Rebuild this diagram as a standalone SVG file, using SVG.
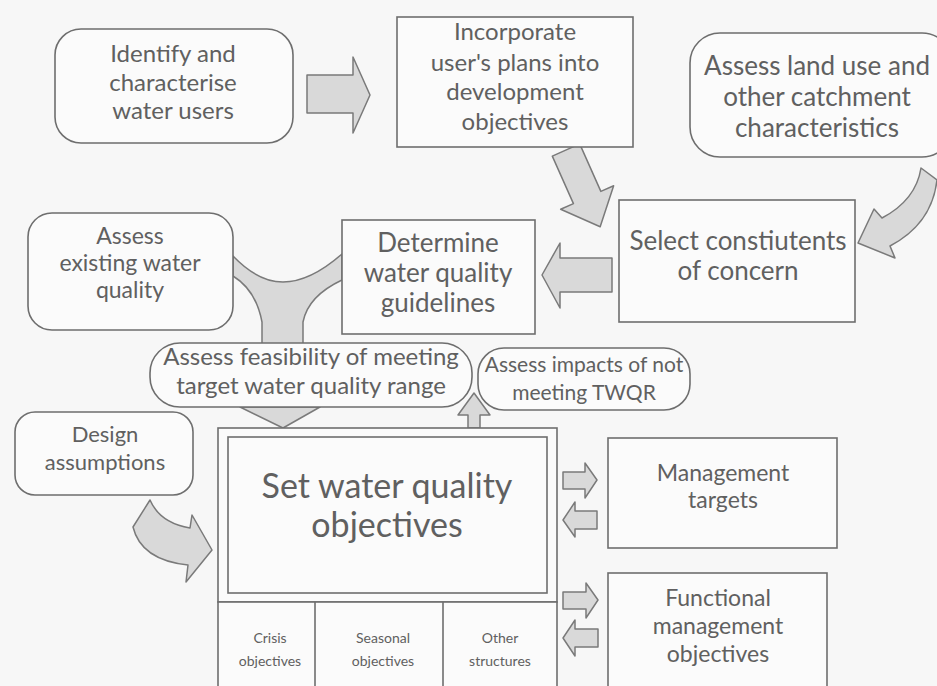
<svg xmlns="http://www.w3.org/2000/svg" width="937" height="686" viewBox="0 0 937 686">
  <style>
    .box { fill: #fbfbfb; stroke: #6e6e6e; stroke-width: 1.6; }
    .arrow { fill: #d9d9d9; stroke: #7a7a7a; stroke-width: 1.5; stroke-linejoin: round; }
    text { font-family: Lato, "Open Sans", "Liberation Sans", sans-serif; fill: #606060; text-anchor: middle; }
  </style>
  <rect width="937" height="686" fill="#f7f7f7"/>

  <!-- Connectors -->
  <g id="connectors">
    <!-- identify -> incorporate -->
    <polygon class="arrow" points="307,75 353,75 353,57 370,95 353,133 353,113 307,113"/>
    <!-- incorporate -> select -->
    <polygon class="arrow" transform="translate(566,150) rotate(-24)" points="-15,0 15,0 15,52 29,52 0,84 -29,52 -15,52"/>
    <!-- land use -> select (curved) -->
    <path class="arrow" d="M921,168 Q916,200 882,218 L874,209 L858,243 L895,258 L890,246 Q932,224 937,180 Z"/>
    <!-- select -> determine -->
    <polygon class="arrow" points="612,258 560,258 560,243 542,275 560,308 560,292 612,292"/>
    <!-- existing quality + guidelines merge -> feasibility -->
    <path class="arrow" d="M233,256 Q258,282 283,282 Q310,282 342,254 L342,280 Q308,296 303,322 L303,346 L262,346 L262,322 Q256,290 233,276 Z"/>
    <!-- feasibility -> set objectives -->
    <polygon class="arrow" points="240,407 320,407 283,428"/>
    <!-- set objectives -> impacts of not meeting TWQR -->
    <polygon class="arrow" points="474,393 490,415 480,415 480,428 468,428 468,415 458,415"/>
    <!-- design assumptions -> set objectives (curved) -->
    <path class="arrow" d="M150,500 Q160,523 190,528 L192,515 L212,550 L186,582 L188,565 Q141,560 133,527 Z"/>
    <!-- set objectives <-> management targets -->
    <polygon class="arrow" points="563,472 585,472 585,463 597,480 585,498 585,489 563,489"/>
    <polygon class="arrow" points="597,511 575,511 575,502 563,520 575,537 575,529 597,529"/>
    <!-- set objectives <-> functional management objectives -->
    <polygon class="arrow" points="563,592 586,592 586,583 598,600 586,618 586,609 563,609"/>
    <polygon class="arrow" points="598,629 575,629 575,620 563,638 575,656 575,647 598,647"/>
  </g>

  <g id="identify-users">
    <rect class="box" x="55" y="29" width="238" height="114" rx="26"/>
    <text font-size="24" x="173" y="62">Identify and</text>
    <text font-size="24" x="173" y="91">characterise</text>
    <text font-size="24" x="173" y="119">water users</text>
  </g>

  <g id="incorporate-plans">
    <rect class="box" x="397" y="17" width="236" height="130"/>
    <text font-size="24" x="515" y="40">Incorporate</text>
    <text font-size="24" x="515" y="71">user's plans into</text>
    <text font-size="24" x="515" y="100">development</text>
    <text font-size="24" x="515" y="130">objectives</text>
  </g>

  <g id="land-use">
    <rect class="box" x="690" y="33" width="262" height="124" rx="30"/>
    <text font-size="26" x="817" y="75">Assess land use and</text>
    <text font-size="26" x="817" y="106">other catchment</text>
    <text font-size="26" x="817" y="137">characteristics</text>
  </g>

  <g id="select-constituents">
    <rect class="box" x="619" y="200" width="236" height="122"/>
    <text font-size="26" x="738" y="250">Select constiutents</text>
    <text font-size="26" x="738" y="280">of concern</text>
  </g>

  <g id="determine-guidelines">
    <rect class="box" x="342" y="220" width="193" height="114"/>
    <text font-size="26" x="438" y="252">Determine</text>
    <text font-size="26" x="438" y="282">water quality</text>
    <text font-size="26" x="438" y="312">guidelines</text>
  </g>

  <g id="existing-quality">
    <rect class="box" x="28" y="213" width="205" height="117" rx="24"/>
    <text font-size="23" x="130" y="244">Assess</text>
    <text font-size="23" x="130" y="271">existing water</text>
    <text font-size="23" x="130" y="298">quality</text>
  </g>

  <g id="feasibility">
    <rect class="box" x="150" y="343" width="322" height="64" rx="30"/>
    <text font-size="24" x="311" y="365">Assess feasibility of meeting</text>
    <text font-size="24" x="311" y="394">target water quality range</text>
  </g>

  <g id="impacts-twqr">
    <rect class="box" x="478" y="348" width="212" height="62" rx="26"/>
    <text font-size="21" x="584" y="372">Assess impacts of not</text>
    <text font-size="21" x="584" y="400">meeting TWQR</text>
  </g>

  <g id="design-assumptions">
    <rect class="box" x="15" y="412" width="178" height="83" rx="20"/>
    <text font-size="22" x="105" y="442">Design</text>
    <text font-size="22" x="105" y="470">assumptions</text>
  </g>

  <g id="set-objectives">
    <rect class="box" x="218" y="428" width="339" height="174"/>
    <rect class="box" x="228" y="437" width="319" height="156"/>
    <text font-size="34" x="387" y="498">Set water quality</text>
    <text font-size="34" x="387" y="537">objectives</text>
    <rect class="box" x="218" y="602" width="339" height="90"/>
    <line x1="315" y1="602" x2="315" y2="686" stroke="#6e6e6e" stroke-width="1.6"/>
    <line x1="443" y1="602" x2="443" y2="686" stroke="#6e6e6e" stroke-width="1.6"/>
    <text font-size="14" x="270" y="643">Crisis</text>
    <text font-size="14" x="270" y="666">objectives</text>
    <text font-size="14" x="383" y="643">Seasonal</text>
    <text font-size="14" x="383" y="666">objectives</text>
    <text font-size="14" x="500" y="643">Other</text>
    <text font-size="14" x="500" y="666">structures</text>
  </g>

  <g id="management-targets">
    <rect class="box" x="608" y="438" width="229" height="110"/>
    <text font-size="23" x="723" y="481">Management</text>
    <text font-size="23" x="723" y="508">targets</text>
  </g>

  <g id="functional-objectives">
    <rect class="box" x="608" y="573" width="219" height="125"/>
    <text font-size="23" x="718" y="606">Functional</text>
    <text font-size="23" x="718" y="634">management</text>
    <text font-size="23" x="718" y="662">objectives</text>
  </g>
</svg>
